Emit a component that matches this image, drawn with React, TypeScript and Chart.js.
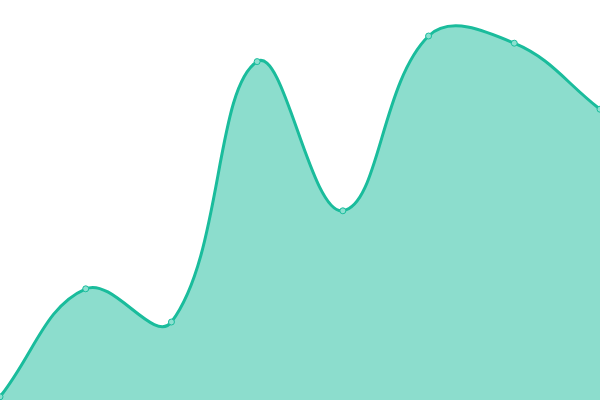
import React, { useEffect, useRef } from 'react';
import { Chart, registerables } from 'chart.js';
Chart.register(...registerables);

const labels = ['1', '2', '3', '4', '5', '6', '7', '8'];
const values = [0.8, 27.8, 19.5, 84.6, 47.3, 91, 89.2, 72.7];

export default function App() {
  const canvasRef = useRef<HTMLCanvasElement>(null);
  const chartRef = useRef<Chart | null>(null);

  useEffect(() => {
    document.body.style.margin = '0';
    if (!canvasRef.current) return;
    if (chartRef.current) chartRef.current.destroy();

    chartRef.current = new Chart(canvasRef.current, {
      type: 'line',
      data: {
        labels,
        datasets: [{
          data: values,
          borderColor: '#1abc9c',
          backgroundColor: 'rgba(26, 188, 156, 0.5)',
          borderWidth: 3,
          fill: true,
          tension: 0.4,
          pointRadius: 3,
          pointBorderWidth: 1,
          pointBackgroundColor: '#8ce0d0',
          pointBorderColor: '#1abc9c',
        }]
      },
      options: {
        animation: false,
        responsive: true,
        maintainAspectRatio: false,
        layout: { padding: 0, autoPadding: false },
        plugins: {
          legend: { display: false },
          tooltip: { enabled: false },
        },
        scales: {
          x: { display: false },
          y: { display: false, min: 0, max: 100 },
        },
      }
    });

    return () => {
      if (chartRef.current) {
        chartRef.current.destroy();
        chartRef.current = null;
      }
    };
  }, []);

  return (
    <div style={{ width: 600, height: 400, position: 'relative' }}>
      <canvas ref={canvasRef}></canvas>
    </div>
  );
}
